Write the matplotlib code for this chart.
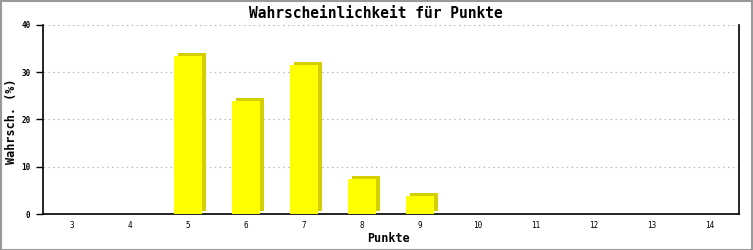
import matplotlib
matplotlib.use("Agg")
import matplotlib.pyplot as plt
import matplotlib.transforms as mtransforms
from matplotlib.patches import Rectangle

categories = ["3", "4", "5", "6", "7", "8", "9", "10", "11", "12", "13", "14"]
values = [0, 0, 33.5, 24.0, 31.5, 7.4, 3.9, 0, 0, 0, 0, 0]
yticks = [0, 10, 20, 30, 40]

title = "Wahrscheinlichkeit für Punkte"
xlabel = "Punkte"
ylabel = "Wahrsch. (%)"

mono = ["DejaVu Sans Mono", "DejaVu Sans"]

fig = plt.figure(figsize=(7.53, 2.5), dpi=100)
fig.patch.set_facecolor("white")
ax = fig.add_axes([43/753, 36/250, 696/753, 189/250])

x = list(range(len(categories)))
width = 0.47

shadow_tr = ax.transData + mtransforms.ScaledTranslation(4/100, 3/100, fig.dpi_scale_trans)
nz = [v for v in values]
ax.bar(x, nz, width=width, color="#d4d000", transform=shadow_tr, zorder=2,
       edgecolor="none")
ax.bar(x, nz, width=width, color="#ffff00", zorder=3, edgecolor="none")

ax.set_xlim(-0.5, len(categories) - 0.5)
ax.set_ylim(0, 40)
ax.set_xticks(x)
ax.set_xticklabels(categories, fontfamily=mono, fontsize=5.5)
ax.set_yticks(yticks)
ax.set_yticklabels([str(t) for t in yticks], fontfamily=mono, fontsize=5.5,
                   fontweight="bold")
ax.tick_params(axis="x", length=0, pad=5)
ax.tick_params(axis="y", length=5, width=1, direction="out", pad=4, color="black")

ax.yaxis.grid(True, color="#bbbbbb", linestyle=(0, (1.5, 2.9)), linewidth=0.8)
ax.set_axisbelow(True)
for s in ["left", "bottom", "right"]:
    ax.spines[s].set_color("black")
    ax.spines[s].set_linewidth(1.2)
ax.spines["top"].set_visible(False)

fig.text(376/753, 1 - 14/250, title, ha="center", va="center",
         fontfamily=mono, fontsize=10.5, fontweight="bold")
fig.text(389/753, 1 - 239/250, xlabel, ha="center", va="center",
         fontfamily=mono, fontsize=8.5, fontweight="bold")
fig.text(12/753, 1 - 121/250, ylabel, ha="center", va="center", rotation=90,
         fontfamily=mono, fontsize=8.5, fontweight="bold")

fig.patches.append(Rectangle((0.5/753, 0.5/250), 751/753, 248.5/250,
                             transform=fig.transFigure, fill=False,
                             edgecolor="#999999", linewidth=1.5))

fig.savefig("out.png", dpi=100, facecolor="white")
